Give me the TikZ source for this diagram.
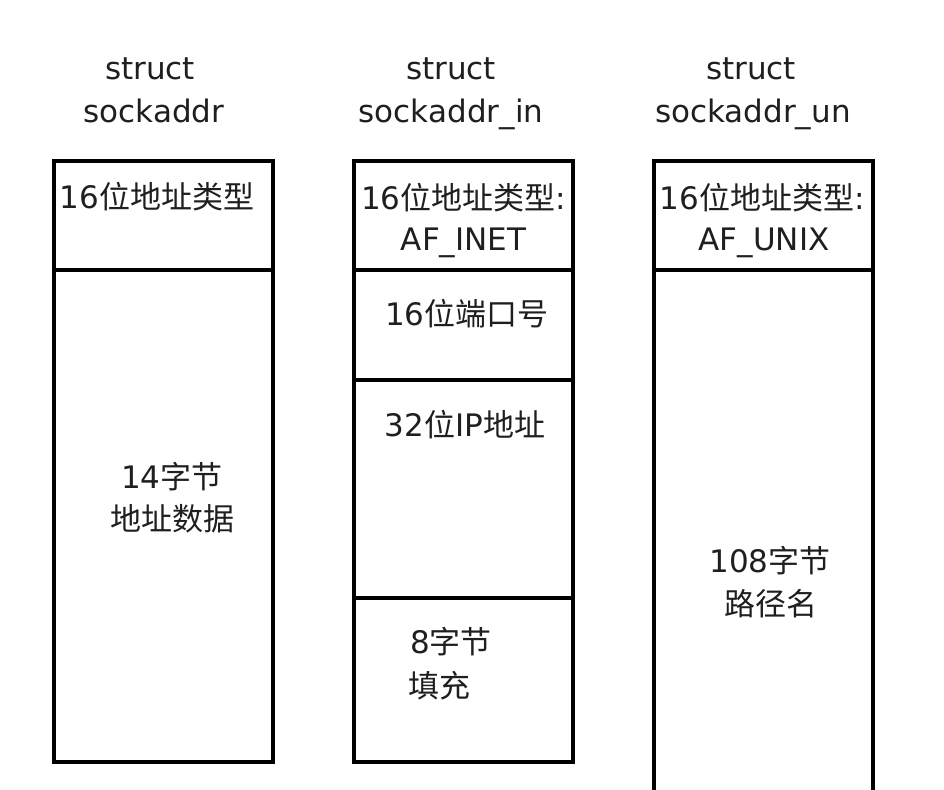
\documentclass[tikz,border=0pt]{standalone}
\usepackage{fontspec}
\setmainfont{DejaVu Sans}
\newfontfamily\cjkfont{Noto Sans CJK SC}
\newcommand\zh[1]{{\cjkfont #1}}
\begin{document}
\begin{tikzpicture}[x=1pt,y=-1pt,
  cell/.style={draw=black,line width=4pt,minimum width=219pt,inner sep=0pt,fill=white},
  lbl/.style={anchor=base,inner sep=0pt,text=black!88,font=\fontsize{31}{36}\selectfont},
  lbll/.style={lbl,anchor=base west}]
\useasboundingbox[fill=white] (0,0) rectangle (944,789);
% column 1
\node[cell,minimum height=109pt] (a1) at (163.5,215.5) {};
\node[cell,minimum height=492pt] (a2) at (163.5,516) {};
% column 2
\node[cell,minimum height=109pt] (b1) at (463.5,215.5) {};
\node[cell,minimum height=110pt] (b2) at (463.5,325) {};
\node[cell,minimum height=218pt] (b3) at (463.5,489) {};
\node[cell,minimum height=164pt] (b4) at (463.5,680) {};
% column 3
\node[cell,minimum height=109pt] (c1) at (763.5,215.5) {};
\node[cell,minimum height=540pt] (c2) at (763.5,540) {};
% titles
\node[lbl] (t1a) at (150,80) {struct};
\node[lbl] (t1b) at (154,122) {sockaddr};
\node[lbl] (t2a) at (451,80) {struct};
\node[lbl] (t2b) at (451,122) {sockaddr\_in};
\node[lbl] (t3a) at (751,80) {struct};
\node[lbl] (t3b) at (753,122) {sockaddr\_un};
% column 1 texts
\node[lbl] (l1) at (157,208) {16\zh{位地址类型}};
\node[lbl] (l2) at (172,488) {14\zh{字节}};
\node[lbl] (l3) at (172,530) {\zh{地址数据}};
% column 2 texts
\node[lbl] (m1) at (463.5,209) {16\zh{位地址类型}:};
\node[lbl] (m2) at (463.5,250) {AF\_INET};
\node[lbl] (m3) at (467,325) {16\zh{位端口号}};
\node[lbl] (m4) at (465,436) {32\zh{位}IP\zh{地址}};
\node[lbll] (m5) at (410,653) {8\zh{字节}};
\node[lbll] (m6) at (408,697) {\zh{填充}};
% column 3 texts
\node[lbl] (r1) at (762,209) {16\zh{位地址类型}:};
\node[lbl] (r2) at (764,250) {AF\_UNIX};
\node[lbl] (r3) at (770,572) {108\zh{字节}};
\node[lbl] (r4) at (771,615) {\zh{路径名}};
\end{tikzpicture}
\end{document}
